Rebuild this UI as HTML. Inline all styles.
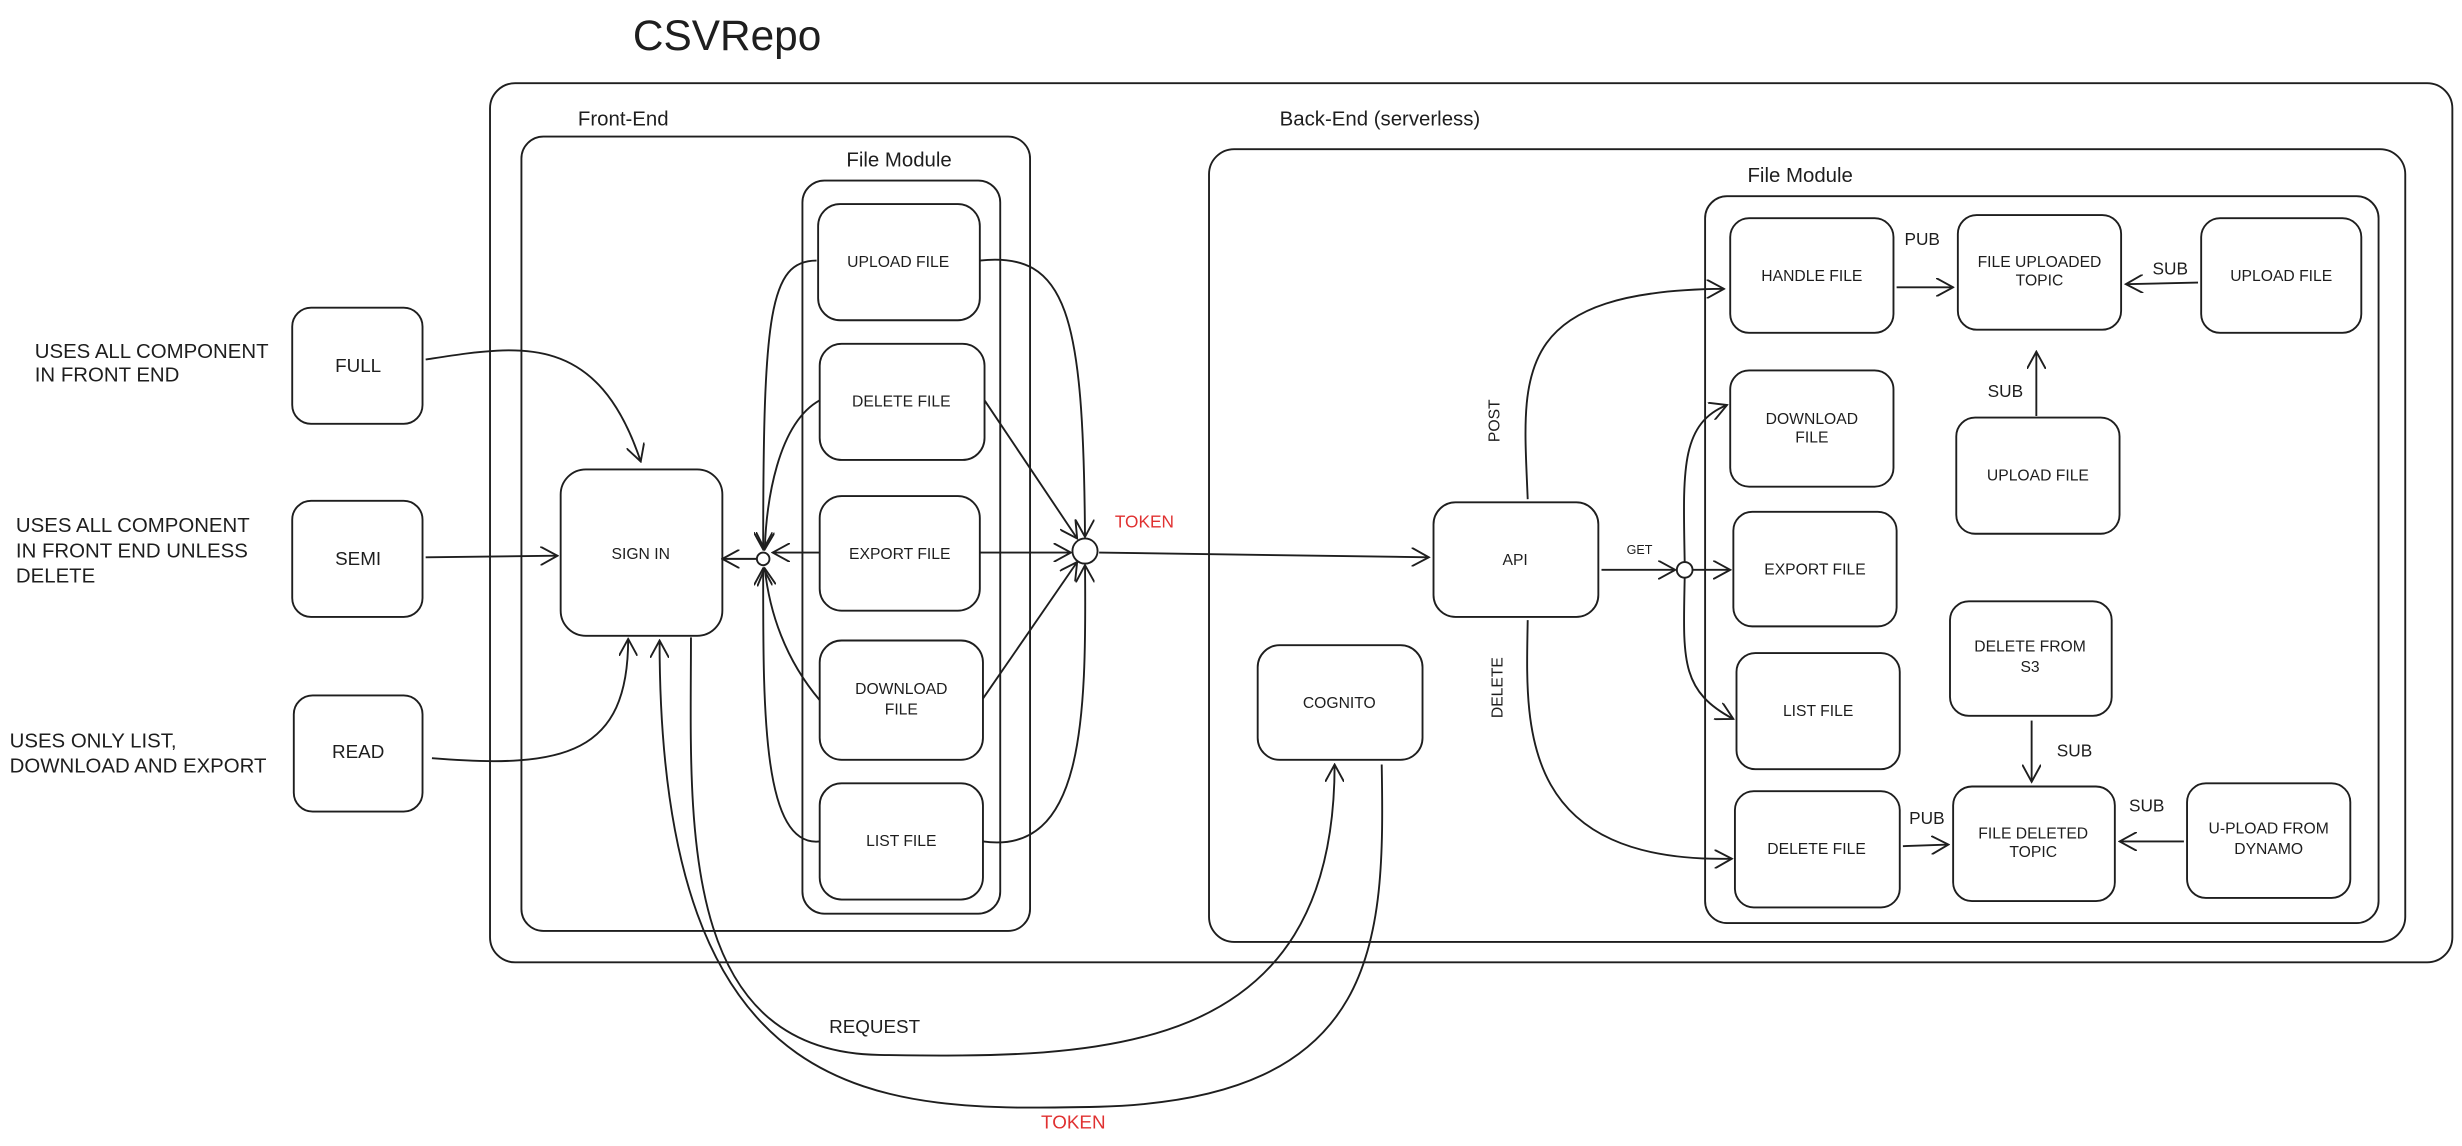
<!DOCTYPE html>
<html><head><meta charset="utf-8"><style>
html,body{margin:0;padding:0;background:#fff;}
svg{display:block}
text{font-family:"Liberation Sans",sans-serif;fill:#1e1e1e}
.s{font-size:10px;text-anchor:middle}
.l{font-size:13px}
</style></head><body>
<svg width="2462" height="1146" viewBox="0 0 1568 730" xmlns="http://www.w3.org/2000/svg">
<defs>
<marker id="a" viewBox="0 0 12 12" refX="11" refY="6" markerWidth="12" markerHeight="12" markerUnits="userSpaceOnUse" orient="auto">
<path d="M0,0 L11,6 L0,12" fill="none" stroke="#1e1e1e" stroke-width="1.2"/></marker>
</defs>
<g fill="none" stroke="#1e1e1e" stroke-width="1.2">
<rect x="312" y="53" width="1250" height="560" rx="16"/>
<rect x="332" y="87" width="324" height="506" rx="14"/>
<rect x="511" y="115" width="126" height="467" rx="14"/>
<rect x="521" y="130" width="103" height="74" rx="14"/>
<rect x="522" y="219" width="105" height="74" rx="14"/>
<rect x="522" y="316" width="102" height="73" rx="14"/>
<rect x="522" y="408" width="104" height="76" rx="14"/>
<rect x="522" y="499" width="104" height="74" rx="14"/>
<rect x="357" y="299" width="103" height="106" rx="16"/>
<rect x="186" y="196" width="83" height="74" rx="12"/>
<rect x="186" y="319" width="83" height="74" rx="12"/>
<rect x="187" y="443" width="82" height="74" rx="12"/>
<rect x="770" y="95" width="762" height="505" rx="16"/>
<rect x="1086" y="125" width="429" height="463" rx="14"/>
<rect x="913" y="320" width="105" height="73" rx="14"/>
<rect x="801" y="411" width="105" height="73" rx="14"/>
<rect x="1102" y="139" width="104" height="73" rx="12"/>
<rect x="1247" y="137" width="104" height="73" rx="12"/>
<rect x="1402" y="139" width="102" height="73" rx="12"/>
<rect x="1102" y="236" width="104" height="74" rx="12"/>
<rect x="1246" y="266" width="104" height="74" rx="12"/>
<rect x="1104" y="326" width="104" height="73" rx="12"/>
<rect x="1242" y="383" width="103" height="73" rx="12"/>
<rect x="1106" y="416" width="104" height="74" rx="12"/>
<rect x="1105" y="504" width="105" height="74" rx="12"/>
<rect x="1244" y="501" width="103" height="73" rx="12"/>
<rect x="1393" y="499" width="104" height="73" rx="12"/>
<circle cx="486" cy="356" r="4"/>
<circle cx="691" cy="351" r="8"/>
<circle cx="1073" cy="363" r="5"/>
<!-- left arrows -->
<path d="M271,229 C330,220 380,210 408,294" marker-end="url(#a)"/>
<path d="M271,355 L355,354" marker-end="url(#a)"/>
<path d="M275,483 C360,490 400,480 400,407" marker-end="url(#a)"/>
<!-- file module to hub -->
<path d="M520,166 C490,166 486,200 486,350" marker-end="url(#a)"/>
<path d="M522,255 C495,270 488,320 487,350" marker-end="url(#a)"/>
<path d="M522,352 L492,352" marker-end="url(#a)"/>
<path d="M522,446 C500,420 490,390 487,362" marker-end="url(#a)"/>
<path d="M522,536 C485,540 486,450 486,362" marker-end="url(#a)"/>
<path d="M482,356 L460,356" marker-end="url(#a)"/>
<path d="M624,166 C680,160 690,200 691,342" marker-end="url(#a)"/>
<path d="M627,255 L686,343" marker-end="url(#a)"/>
<path d="M624,352 L682,352" marker-end="url(#a)"/>
<path d="M626,445 L686,358" marker-end="url(#a)"/>
<path d="M626,536 C690,545 692,460 691,360" marker-end="url(#a)"/>
<path d="M700,352 L910,355" marker-end="url(#a)"/>
<!-- api -->
<path d="M973,318 C970,240 960,185 1098,184" marker-end="url(#a)"/>
<path d="M1020,363 L1067,363" marker-end="url(#a)"/>
<path d="M1073,358 C1072,300 1070,270 1100,258" marker-end="url(#a)"/>
<path d="M1078,363 L1102,363" marker-end="url(#a)"/>
<path d="M1073,368 C1072,420 1070,440 1104,458" marker-end="url(#a)"/>
<path d="M973,395 C972,460 965,550 1103,547" marker-end="url(#a)"/>
<path d="M1208,183 L1244,183" marker-end="url(#a)"/>
<path d="M1400,180 L1354,181" marker-end="url(#a)"/>
<path d="M1297,265 L1297,224" marker-end="url(#a)"/>
<path d="M1294,459 L1294,498" marker-end="url(#a)"/>
<path d="M1212,539 L1241,538" marker-end="url(#a)"/>
<path d="M1391,536 L1350,536" marker-end="url(#a)"/>
<!-- request/token loops -->
<path d="M440,406 C440,520 430,670 560,672 C700,674 850,675 850,487" marker-end="url(#a)"/>
<path d="M880,487 C882,600 880,700 700,705 C560,708 420,710 420,408" marker-end="url(#a)"/>
</g>
<text x="403" y="32" style="font-size:27px">CSVRepo</text>
<text x="368" y="80" class="l">Front-End</text>
<text x="539" y="106" class="l">File Module</text>
<text x="815" y="80" class="l">Back-End (serverless)</text>
<text x="1113" y="116" class="l">File Module</text>
<text x="572" y="170" class="s">UPLOAD FILE</text>
<text x="574" y="259" class="s">DELETE FILE</text>
<text x="573" y="356" class="s">EXPORT FILE</text>
<text x="574" y="442" class="s">DOWNLOAD</text><text x="574" y="455" class="s">FILE</text>
<text x="574" y="539" class="s">LIST FILE</text>
<text x="408" y="356" class="s">SIGN IN</text>
<text x="228" y="237" class="s" style="font-size:12px">FULL</text>
<text x="228" y="360" class="s" style="font-size:12px">SEMI</text>
<text x="228" y="483" class="s" style="font-size:12px">READ</text>
<text x="22" y="228" class="l">USES ALL COMPONENT</text>
<text x="22" y="243" class="l">IN FRONT END</text>
<text x="10" y="339" class="l">USES ALL COMPONENT</text>
<text x="10" y="355" class="l">IN FRONT END UNLESS</text>
<text x="10" y="371" class="l">DELETE</text>
<text x="6" y="476" class="l">USES ONLY LIST,</text>
<text x="6" y="492" class="l">DOWNLOAD AND EXPORT</text>
<text x="710" y="336" style="font-size:11px;fill:#e03131">TOKEN</text>
<text x="965" y="360" class="s">API</text>
<text x="853" y="451" class="s">COGNITO</text>
<text x="1036" y="353" style="font-size:8px">GET</text>
<text x="955" y="268" class="s" transform="rotate(-90 955 268)">POST</text>
<text x="957" y="438" class="s" transform="rotate(-90 957 438)">DELETE</text>
<text x="1154" y="179" class="s">HANDLE FILE</text>
<text x="1299" y="170" class="s">FILE UPLOADED</text><text x="1299" y="182" class="s">TOPIC</text>
<text x="1453" y="179" class="s">UPLOAD FILE</text>
<text x="1154" y="270" class="s">DOWNLOAD</text><text x="1154" y="282" class="s">FILE</text>
<text x="1298" y="306" class="s">UPLOAD FILE</text>
<text x="1156" y="366" class="s">EXPORT FILE</text>
<text x="1293" y="415" class="s">DELETE FROM</text><text x="1293" y="428" class="s">S3</text>
<text x="1158" y="456" class="s">LIST FILE</text>
<text x="1157" y="544" class="s">DELETE FILE</text>
<text x="1295" y="534" class="s">FILE DELETED</text><text x="1295" y="546" class="s">TOPIC</text>
<text x="1445" y="531" class="s">U-PLOAD FROM</text><text x="1445" y="544" class="s">DYNAMO</text>
<text x="1213" y="156" style="font-size:11px">PUB</text>
<text x="1371" y="175" style="font-size:11px">SUB</text>
<text x="1266" y="253" style="font-size:11px">SUB</text>
<text x="1310" y="482" style="font-size:11px">SUB</text>
<text x="1216" y="525" style="font-size:11px">PUB</text>
<text x="1356" y="517" style="font-size:11px">SUB</text>
<text x="528" y="658" style="font-size:12px">REQUEST</text>
<text x="663" y="719" style="font-size:12px;fill:#e03131">TOKEN</text>
</svg>
</body></html>
